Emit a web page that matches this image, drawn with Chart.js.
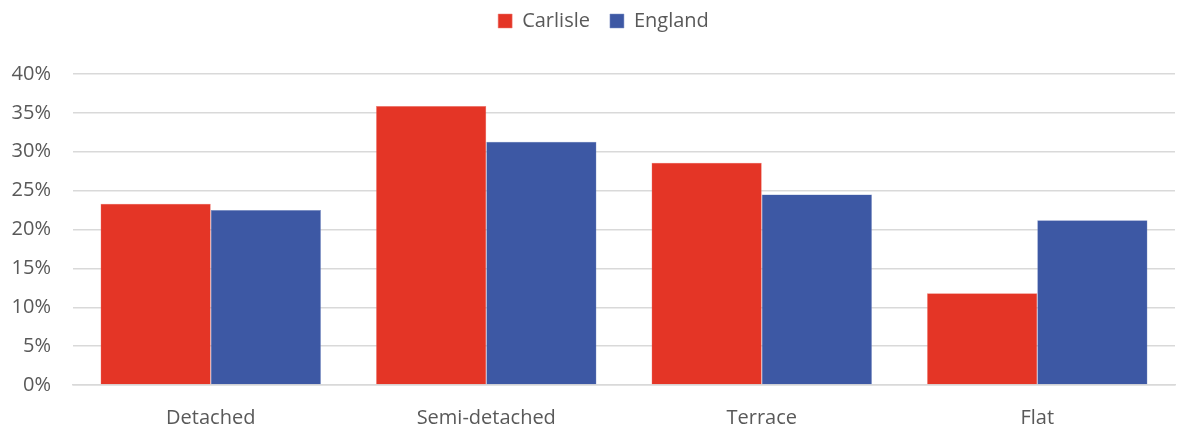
<!DOCTYPE html>
<html>
<head>
<meta charset="utf-8">
<script src="https://cdn.jsdelivr.net/npm/chart.js@4"></script>
<style>
  html, body { margin: 0; padding: 0; background: #fff; }
  #wrap { width: 1178px; height: 430px; }
</style>
</head>
<body>
<div id="wrap"><canvas id="chart"></canvas></div>
<script>
// Dwelling type share, Carlisle vs England
const categories = ['Detached', 'Semi-detached', 'Terrace', 'Flat'];
const carlisle = [23.3, 35.9, 28.6, 11.8];
const england = [22.5, 31.3, 24.5, 21.2];
const yTicks = [0, 5, 10, 15, 20, 25, 30, 35, 40];

const textColor = '#595959';
const fontFamily = "'Open Sans', 'Liberation Sans', sans-serif";

// legend sits higher and leaves more room above the plot area
const legendGap = {
  id: 'legendGap',
  beforeInit(chart) {
    const lg = chart.legend;
    const fit = lg.fit;
    lg.fit = function () {
      fit.call(lg);
      this.height += 21;
    };
    const draw = lg.draw;
    lg.draw = function () {
      const c = chart.ctx;
      c.save();
      c.translate(12, -12);
      draw.call(lg);
      c.restore();
    };
  }
};

new Chart(document.getElementById('chart'), {
  type: 'bar',
  data: {
    labels: categories,
    datasets: [
      {
        label: 'Carlisle',
        data: carlisle,
        backgroundColor: '#E43526',
        borderColor: '#ee7d74',
        borderWidth: 0.5,
        categoryPercentage: 0.8,
        barPercentage: 1
      },
      {
        label: 'England',
        data: england,
        backgroundColor: '#3D58A4',
        borderColor: '#7d90c4',
        borderWidth: 0.5,
        categoryPercentage: 0.8,
        barPercentage: 1
      }
    ]
  },
  options: {
    responsive: true,
    maintainAspectRatio: false,
    animation: false,
    layout: { padding: { left: 8, right: 3, top: 3, bottom: 2 } },
    plugins: {
      legend: {
        position: 'top',
        labels: {
          color: textColor,
          font: { family: fontFamily, size: 20 },
          boxWidth: 14,
          boxHeight: 14,
          padding: 20
        }
      },
      tooltip: { enabled: false }
    },
    scales: {
      x: {
        afterFit: axis => { axis.height = 43; },
        grid: { display: false },
        border: { color: '#d9d9d9', width: 1.5 },
        ticks: { color: textColor, font: { family: fontFamily, size: 20 }, padding: 13, maxRotation: 0 }
      },
      y: {
        min: 0,
        max: 40,
        afterBuildTicks: axis => { axis.ticks = yTicks.map(v => ({ value: v })); },
        afterFit: axis => { axis.width = 65; },
        grid: { color: '#d9d9d9', lineWidth: 1.5, drawTicks: false },
        border: { display: false },
        ticks: {
          color: textColor,
          font: { family: fontFamily, size: 20 },
          padding: 22,
          callback: v => v + '%'
        }
      }
    }
  },
  plugins: [legendGap]
});
</script>
</body>
</html>
